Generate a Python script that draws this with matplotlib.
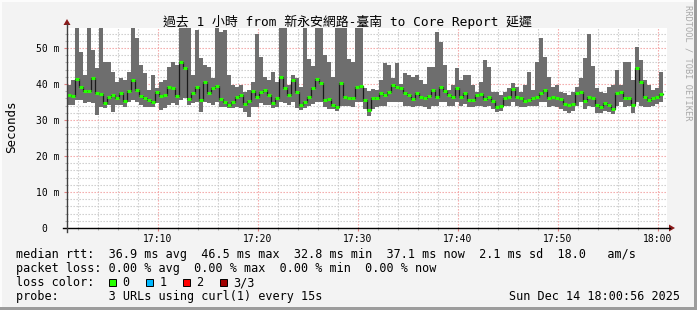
import numpy as np
import matplotlib
matplotlib.use('Agg')
import matplotlib.pyplot as plt
import matplotlib.transforms as mtransforms
from matplotlib.patches import Rectangle, Polygon
from matplotlib.lines import Line2D

# median / min / max rtt (ms) per sample
median_ms = [
    36.9, 36.8, 41.4, 39.3, 38.1, 38.1, 41.6, 37.4, 37.2, 34.6,
    36.5, 36.9, 36.2, 37.4, 35.3, 38.1, 41.1, 38.3, 36.8, 36.2,
    35.6, 35.1, 37.9, 36.8, 36.9, 39.3, 38.8, 36.8, 46.2, 44.5,
    35.8, 37.4, 39.3, 35.6, 40.6, 37.4, 38.8, 39.4, 35.8, 35.1,
    34.2, 34.9, 36.5, 36.9, 34.4, 35.3, 38.1, 36.5, 37.9, 38.3,
    36.9, 34.6, 36.0, 42.0, 38.8, 36.9, 41.1, 37.9, 34.2, 35.1,
    36.5, 38.8, 41.5, 40.2, 35.5, 35.8, 34.2, 33.7, 40.2, 36.5,
    36.2, 36.2, 39.3, 39.5, 35.6, 32.8, 36.2, 36.0, 37.4, 37.0,
    37.9, 39.7, 39.3, 38.8, 37.4, 36.9, 35.8, 37.4, 36.5, 36.2,
    36.6, 38.3, 36.3, 39.3, 38.1, 36.9, 36.3, 39.0, 36.5, 37.4,
    35.6, 35.6, 36.9, 37.2, 35.8, 36.5, 35.4, 33.7, 33.8, 36.0,
    36.5, 38.6, 36.5, 36.2, 35.4, 35.6, 36.0, 36.5, 37.4, 38.3,
    36.2, 36.5, 36.2, 35.8, 34.5, 34.2, 34.5, 37.4, 37.7, 35.3,
    36.5, 36.0, 34.2, 33.7, 34.6, 34.2, 33.0, 37.4, 37.9, 36.2,
    36.2, 34.2, 44.4, 40.6, 36.5, 35.6, 36.2, 36.5, 37.1,
]
max_ms = [
    39.7, 41.1, 56.0, 49.0, 42.5, 56.0, 49.4, 44.4, 56.0, 46.2,
    46.0, 43.4, 40.6, 41.6, 41.1, 43.4, 56.0, 52.7, 45.3, 43.0,
    38.3, 42.5, 38.8, 40.6, 41.1, 44.8, 46.2, 45.3, 56.0, 56.0,
    56.0, 42.5, 55.0, 47.1, 45.3, 44.8, 41.6, 56.0, 54.5, 55.0,
    42.5, 39.7, 39.3, 39.7, 37.9, 38.3, 40.6, 54.0, 47.6, 42.0,
    41.1, 43.4, 40.6, 55.5, 55.5, 39.7, 42.5, 41.6, 39.3, 55.5,
    47.0, 45.0, 55.5, 56.0, 48.0, 46.0, 42.0, 56.0, 56.0, 55.5,
    47.0, 46.0, 56.0, 56.0, 39.0, 38.0, 38.5, 38.3, 41.0, 45.7,
    45.3, 41.6, 45.7, 39.9, 43.0, 42.5, 42.0, 42.5, 41.0, 40.0,
    44.8, 44.8, 54.5, 51.8, 45.3, 38.3, 39.7, 44.4, 41.1, 42.5,
    42.5, 39.7, 37.9, 40.6, 46.7, 44.8, 37.9, 37.9, 37.0, 37.9,
    38.8, 40.2, 39.3, 37.9, 39.7, 43.4, 38.3, 46.0, 52.7, 47.6,
    42.0, 39.3, 39.7, 37.9, 37.4, 36.9, 37.9, 39.3, 41.6, 47.1,
    53.8, 45.0, 38.8, 37.9, 37.4, 39.3, 39.7, 44.0, 39.7, 46.2,
    46.2, 41.1, 50.4, 46.7, 41.1, 39.7, 38.3, 38.8, 43.4,
]
min_ms = [
    34.2, 34.2, 35.6, 35.6, 34.6, 35.1, 34.6, 31.4, 33.7, 33.2,
    34.2, 32.3, 34.2, 34.2, 33.7, 35.1, 35.6, 35.1, 34.2, 33.7,
    33.7, 33.7, 34.6, 32.8, 33.2, 34.2, 34.6, 34.2, 35.6, 36.0,
    34.2, 34.6, 35.1, 32.3, 35.1, 34.6, 34.2, 35.1, 33.7, 33.7,
    33.2, 33.2, 33.7, 33.2, 32.3, 30.9, 33.7, 33.7, 34.6, 34.2,
    34.2, 33.2, 33.7, 35.1, 34.6, 34.2, 35.1, 33.2, 32.8, 33.2,
    34.0, 34.5, 35.0, 35.0, 33.5, 33.0, 33.0, 32.5, 34.0, 34.0,
    34.0, 33.5, 35.0, 35.0, 33.0, 31.0, 33.0, 33.5, 34.0, 34.0,
    35.0, 35.0, 35.0, 35.0, 34.0, 34.0, 33.7, 34.0, 34.0, 33.5,
    33.0, 34.0, 34.0, 35.0, 35.0, 34.0, 33.8, 35.0, 34.0, 34.5,
    33.5, 33.5, 34.0, 34.0, 33.5, 34.0, 33.0, 32.3, 32.5, 34.0,
    34.0, 35.0, 34.0, 33.5, 33.5, 33.8, 34.0, 34.0, 35.0, 35.0,
    33.5, 34.0, 33.5, 33.0, 32.5, 32.0, 32.5, 34.0, 35.0, 33.0,
    34.0, 33.5, 32.0, 32.0, 32.5, 32.3, 31.7, 34.0, 35.0, 33.5,
    34.0, 32.0, 35.0, 34.0, 33.5, 33.5, 34.0, 34.5, 35.0,
]

start_min = 56 / 60          # 17:00:56, minutes after 17:00
step_min = 0.4               # one sample per 24 s
x_ticks = [10, 20, 30, 40, 50, 60]
x_labels = ['17:10', '17:20', '17:30', '17:40', '17:50', '18:00']
y_ticks = [0, 10, 20, 30, 40, 50]
y_labels = ['0  ', '10 m', '20 m', '30 m', '40 m', '50 m']

title = '過去 1 小時 from 新永安網路-臺南 to Core Report 延遲'
legend_lines = [
    'median rtt:  36.9 ms avg  46.5 ms max  32.8 ms min  37.1 ms now  2.1 ms sd  18.0   am/s',
    'packet loss: 0.00 % avg  0.00 % max  0.00 % min  0.00 % now',
    'loss color:',
    'probe:       3 URLs using curl(1) every 15s',
]
loss_names = ['0', '1', '2', '3/3']
loss_colors = ['#26ff00', '#00b8ff', '#ff0000', '#a00000']

W, H = 697, 310
mono = ['DejaVu Sans Mono', 'Noto Sans CJK TC']

fig = plt.figure(figsize=(W / 100, H / 100), dpi=100)
fig.patch.set_facecolor('#f3f3f3')
px = mtransforms.Affine2D().scale(1 / W, -1 / H).translate(0, 1) + fig.transFigure

ax = fig.add_axes([67 / W, (H - 228) / H, 600 / W, 200 / H])
ax.set_facecolor('white')
ax.set_xlim(start_min, start_min + 60)
ax.set_ylim(0, 200 / 3.6)

t = start_min + step_min * np.arange(len(median_ms))
edges = np.append(t, t[-1] + step_min)
ext = lambda v: np.append(v, v[-1])

ax.fill_between(edges, ext(min_ms), ext(max_ms), step='post',
                color='#6e6e6e', lw=0, zorder=2)
ax.step(edges, ext(median_ms), where='post', color='#1a1a1a', lw=0.9, zorder=3)
ax.hlines(median_ms, t, t + step_min, color=loss_colors[0], lw=2.2, zorder=4)

# grid
ax.set_xticks(x_ticks)
ax.set_xticklabels(x_labels)
ax.set_xticks(np.arange(2, 61, 2), minor=True)
ax.set_yticks(y_ticks)
ax.set_yticklabels(y_labels)
ax.set_yticks(np.arange(2, 56, 2), minor=True)
ax.set_axisbelow(True)
ax.grid(which='major', color='#f2a0a0', ls=(0, (1.2, 1.5)), lw=0.8)
ax.grid(which='minor', color='#c8c8c8', ls=(0, (1.2, 1.5)), lw=0.8)
for s in ax.spines.values():
    s.set_visible(False)

ax.tick_params(which='major', length=2, width=0.8, color='#e08080',
               labelsize=7, pad=2.5)
ax.tick_params(which='minor', length=1.5, width=0.8, color='#b0b0b0')
ax.tick_params(axis='y', which='major', pad=3.5)
for lab in ax.get_xticklabels() + ax.get_yticklabels():
    lab.set_family(mono)

# axis lines with arrows
fig.add_artist(Line2D([63, 670], [228, 228], transform=px, color='black', lw=1))
fig.add_artist(Line2D([67, 67], [232, 24], transform=px, color='#404040', lw=1))
fig.add_artist(Polygon([[669, 224.5], [669, 231.5], [675, 228]], closed=True,
                       transform=px, color='#8b1a1a', lw=0))
fig.add_artist(Polygon([[63.5, 25], [70.5, 25], [67, 19]], closed=True,
                       transform=px, color='#8b1a1a', lw=0))

fig.text(347, 22, title, transform=px, ha='center', va='center',
         fontsize=9.3, family=mono)
fig.text(12, 127, 'Seconds', transform=px, ha='center', va='center',
         rotation=90, fontsize=9, family=mono)
fig.text(688, 5, 'RRDTOOL / TOBI OETIKER', transform=px, ha='center', va='top',
         rotation=270, fontsize=6.2, family=mono, color='#a8a8a8')

for k, line in enumerate(legend_lines):
    fig.text(16, 254.5 + 14 * k, line, transform=px, ha='left', va='center',
             fontsize=8.5, family=mono)

box_x = [108.5, 145.5, 182.5, 219.5]
for bx, name, col in zip(box_x, loss_names, loss_colors):
    fig.add_artist(Rectangle((bx, 279), 7, 7, transform=px,
                             facecolor=col, edgecolor='black', lw=0.7))
    fig.text(bx + 14, 282.5, name, transform=px, ha='left', va='center',
             fontsize=8.5, family=mono)

fig.text(680, 296, 'Sun Dec 14 18:00:56 2025', transform=px, ha='right',
         va='center', fontsize=8.5, family=mono)

# 3d frame
fig.add_artist(Rectangle((0, 0), W, 2, transform=px, color='#fcfcfc', lw=0))
fig.add_artist(Rectangle((0, 0), 2, H, transform=px, color='#fcfcfc', lw=0))
fig.add_artist(Rectangle((W - 3, 0), 3, H, transform=px, color='#9c9c9c', lw=0))
fig.add_artist(Rectangle((0, H - 3), W, 3, transform=px, color='#9c9c9c', lw=0))

fig.savefig('out.png', dpi=100, facecolor=fig.get_facecolor())
